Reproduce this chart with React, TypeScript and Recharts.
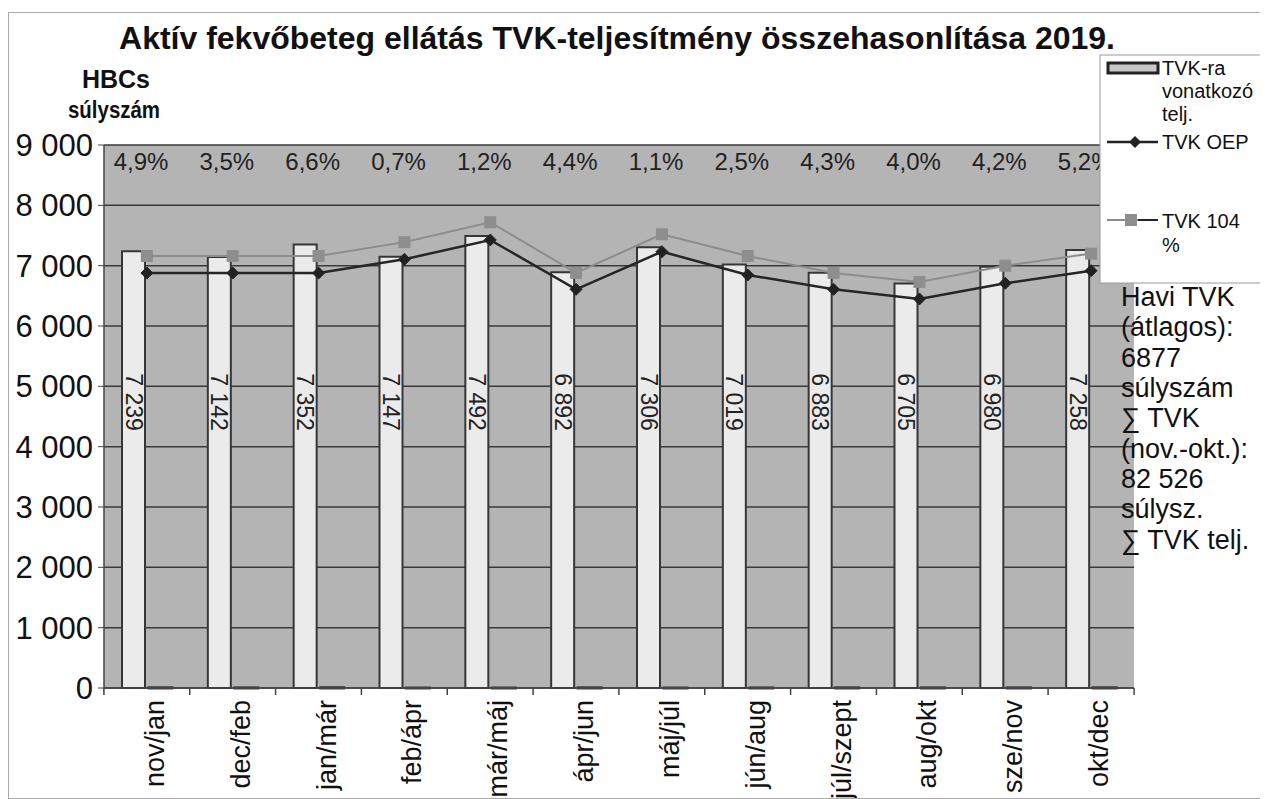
import React from 'react';
import { ComposedChart, Bar, Line, XAxis, YAxis, CartesianGrid, LabelList } from 'recharts';

const categories = ['nov/jan', 'dec/feb', 'jan/már', 'feb/ápr', 'már/máj', 'ápr/jun', 'máj/júl', 'jún/aug', 'júl/szept', 'aug/okt', 'sze/nov', 'okt/dec'];
const teljesites = [7239, 7142, 7352, 7147, 7492, 6892, 7306, 7019, 6883, 6705, 6980, 7258];
const tvkOep = [6877, 6877, 6877, 7106, 7426, 6608, 7232, 6846, 6608, 6448, 6708, 6917];
const tvk104 = [7160, 7160, 7160, 7390, 7720, 6880, 7520, 7160, 6880, 6730, 7000, 7200];
const pctValues = [4.9, 3.5, 6.6, 0.7, 1.2, 4.4, 1.1, 2.5, 4.3, 4.0, 4.2, 5.2];
const yTicks = [0, 1000, 2000, 3000, 4000, 5000, 6000, 7000, 8000, 9000];

const data = categories.map((c, i) => ({
  cat: c,
  telj: teljesites[i],
  oep: tvkOep[i],
  p104: tvk104[i],
  pct: pctValues[i],
}));

const FONT = '"Liberation Sans", Arial, sans-serif';
const W = 1260;
const H = 791;

const fmtThousands = (v: number) => String(v).replace(/\B(?=(\d{3})+(?!\d))/g, ' ');
const fmtPct = (v: number) => v.toFixed(1).replace('.', ',') + '%';

const XTick = (props: any) => {
  const { x, y, payload, index } = props;
  const half = 43;
  return (
    <g>
      <line x1={x - half} y1={y - 8} x2={x - half} y2={y - 1} stroke="#444" strokeWidth={1.5} />
      {index === categories.length - 1 && (
        <line x1={x + half} y1={y - 8} x2={x + half} y2={y - 1} stroke="#444" strokeWidth={1.5} />
      )}
      <text
        x={x + 8}
        y={y + 4}
        transform={`rotate(-90, ${x + 8}, ${y + 4})`}
        textAnchor="end"
        dominantBaseline="central"
        fontFamily={FONT}
        fontSize={27}
        fill="#111"
      >
        {payload.value}
      </text>
    </g>
  );
};

const BarValueLabel = (props: any) => {
  const { x, width, value } = props;
  const cx = x + width / 2;
  const cy = 394;
  return (
    <text
      x={cx}
      y={cy}
      transform={`rotate(90, ${cx}, ${cy})`}
      textAnchor="middle"
      dominantBaseline="central"
      fontFamily={FONT}
      fontSize={23}
      fill="#222"
    >
      {fmtThousands(value)}
    </text>
  );
};

const PctLabel = (props: any) => {
  const { x, value } = props;
  return (
    <text x={x - 8} y={162} textAnchor="middle" fontFamily={FONT} fontSize={24} fill="#222">
      {fmtPct(value)}
    </text>
  );
};

const Diamond = (props: any) => {
  const { cx, cy } = props;
  if (cx == null || cy == null) return null;
  const s = 6;
  return <path d={`M${cx},${cy - s} L${cx + s},${cy} L${cx},${cy + s} L${cx - s},${cy} Z`} fill="#222" stroke="#222" />;
};

const Square = (props: any) => {
  const { cx, cy } = props;
  if (cx == null || cy == null) return null;
  const s = 6;
  return <rect x={cx - s} y={cy - s} width={2 * s} height={2 * s} fill="#8e8e8e" />;
};

export default function App() {
  return (
    <div style={{ position: 'relative', width: W, height: H, background: '#fff' }}>
      <ComposedChart
        width={W}
        height={H}
        data={data}
        margin={{ top: 137, right: 134, left: 6, bottom: 6 }}
        barSize={23}
        barGap={4}
      >
        <CartesianGrid vertical={false} fill="#b4b4b4" stroke="#3a3a3a" strokeWidth={1.5} fillOpacity={1} />
        <XAxis
          dataKey="cat"
          height={105}
          interval={0}
          tick={<XTick />}
          tickLine={false}
          axisLine={{ stroke: '#444', strokeWidth: 1.5 }}
        />
        <YAxis
          width={90}
          domain={[0, 9000]}
          ticks={yTicks}
          tickFormatter={fmtThousands}
          tickSize={6}
          tickMargin={5}
          tickLine={{ stroke: '#444' }}
          axisLine={{ stroke: '#444', strokeWidth: 1.5 }}
          tick={{ fontFamily: FONT, fontSize: 31, fill: '#111' }}
        />
        <Bar dataKey="telj" fill="#ebebeb" stroke="#363636" strokeWidth={2} isAnimationActive={false}>
          <LabelList dataKey="telj" content={<BarValueLabel />} />
        </Bar>
        <Bar dataKey="pct" fill="#555" stroke="#444" strokeWidth={3} isAnimationActive={false}>
          <LabelList dataKey="pct" content={<PctLabel />} />
        </Bar>
        <Line dataKey="p104" stroke="#8c8c8c" strokeWidth={2} dot={<Square />} isAnimationActive={false} />
        <Line dataKey="oep" stroke="#262626" strokeWidth={2.5} dot={<Diamond />} isAnimationActive={false} />
      </ComposedChart>
      <svg
        width={W}
        height={H}
        style={{ position: 'absolute', left: 0, top: 0, pointerEvents: 'none' }}
      >
        <rect x={0.5} y={4.5} width={W - 1} height={H - 5} fill="none" stroke="#aaa" strokeWidth={1} />
        <text x={609} y={41} textAnchor="middle" fontFamily={FONT} fontWeight="bold" fontSize={32} fill="#111">
          Aktív fekvőbeteg ellátás TVK-teljesítmény összehasonlítása 2019.
        </text>
        <text x={108} y={80} textAnchor="middle" fontFamily={FONT} fontWeight="bold" fontSize={25} fill="#111">
          HBCs
        </text>
        <text x={106} y={110} textAnchor="middle" fontFamily={FONT} fontWeight="bold" fontSize={24} fill="#111" textLength={92} lengthAdjust="spacingAndGlyphs">
          súlyszám
        </text>
        {/* legend */}
        <rect x={1092} y={47} width={175} height={228} fill="#fff" stroke="#999" strokeWidth={1} />
        <rect x={1100} y={55} width={50} height={10} fill="#c8c8c8" stroke="#222" strokeWidth={3} />
        <text fontFamily={FONT} fontSize={20} fill="#111">
          <tspan x={1154} y={67}>TVK-ra</tspan>
          <tspan x={1154} y={90}>vonatkozó</tspan>
          <tspan x={1154} y={113}>telj.</tspan>
          <tspan x={1154} y={141}>TVK OEP</tspan>
          <tspan x={1154} y={220}>TVK 104</tspan>
          <tspan x={1154} y={244}>%</tspan>
        </text>
        <line x1={1099} y1={134} x2={1150} y2={134} stroke="#222" strokeWidth={2.5} />
        <path d="M1127,128 L1133,134 L1127,140 L1121,134 Z" fill="#222" />
        <line x1={1099} y1={212} x2={1150} y2={212} stroke="#8c8c8c" strokeWidth={2} />
        <line x1={1130} y1={212} x2={1150} y2={212} stroke="#222" strokeWidth={2} />
        <rect x={1117} y={206} width={12} height={12} fill="#8e8e8e" />
        {/* side text */}
        <text fontFamily={FONT} fontSize={27} fill="#111">
          <tspan x={1113} y={298}>Havi TVK</tspan>
          <tspan x={1113} y={328}>(átlagos):</tspan>
          <tspan x={1113} y={359}>6877</tspan>
          <tspan x={1113} y={389}>súlyszám</tspan>
          <tspan x={1113} y={419}>∑ TVK</tspan>
          <tspan x={1113} y={450}>(nov.-okt.):</tspan>
          <tspan x={1113} y={480}>82 526</tspan>
          <tspan x={1113} y={510}>súlysz.</tspan>
          <tspan x={1113} y={541}>∑ TVK telj.</tspan>
        </text>
      </svg>
    </div>
  );
}
